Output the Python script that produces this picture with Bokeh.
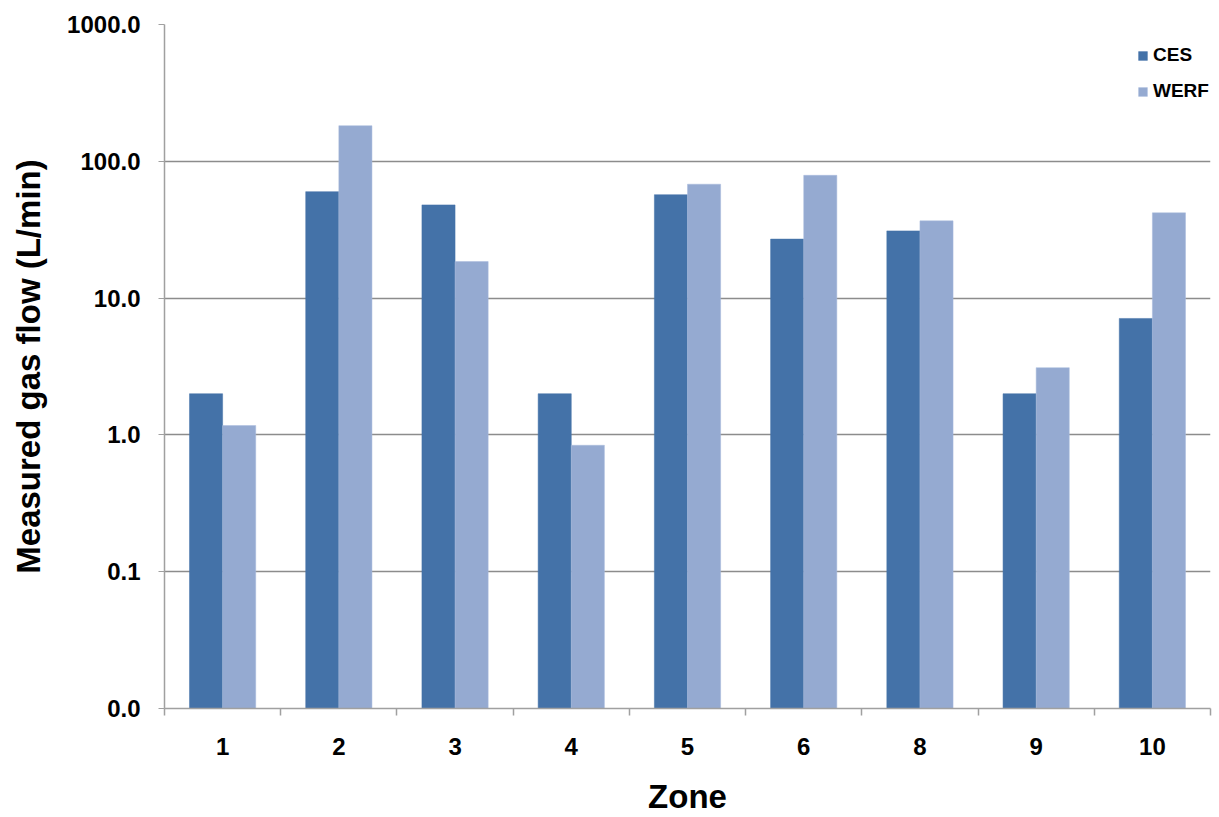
from bokeh.plotting import figure
from bokeh.models import (ColumnDataSource, Range1d, FixedTicker, NumeralTickFormatter,
                          Legend, LegendItem)
from bokeh.embed import file_html
from bokeh.resources import INLINE

# ---- data ----
zones = ["1", "2", "3", "4", "5", "6", "8", "9", "10"]
ces = [2.0, 60.0, 48.0, 2.0, 57.0, 27.0, 31.0, 2.0, 7.1]
werf = [1.17, 182.0, 18.5, 0.84, 68.0, 79.0, 36.7, 3.1, 42.0]
y_ticks = [0.01, 0.1, 1.0, 10.0, 100.0, 1000.0]
series_names = ["CES", "WERF"]

FONT = "Liberation Sans"
DARK = "#4472A8"
LIGHT = "#95AAD1"
GRID = "#8C8C8C"
AXIS = "#A0A0A0"

n = len(zones)
centers = [i + 0.5 for i in range(n)]
bw = 0.285
src = ColumnDataSource(dict(
    xc=[c - bw / 2 for c in centers],
    xw=[c + bw / 2 for c in centers],
    ces=ces, werf=werf, base=[y_ticks[0]] * n,
))

p = figure(width=1213, height=817, output_backend="svg", toolbar_location=None,
           y_axis_type="log", x_range=Range1d(0, n),
           y_range=Range1d(y_ticks[0], y_ticks[-1]),
           min_border_left=164, min_border_right=3, min_border_top=24,
           min_border_bottom=106)
p.outline_line_color = None
p.background_fill_color = "white"

r1 = p.vbar(x="xc", top="ces", bottom="base", width=bw, source=src,
            fill_color=DARK, line_color=DARK, line_width=0.5)
r2 = p.vbar(x="xw", top="werf", bottom="base", width=bw, source=src,
            fill_color=LIGHT, line_color="#A9BBDD", line_width=0.5)

# y axis
p.yaxis.ticker = FixedTicker(ticks=y_ticks, minor_ticks=[])
p.yaxis.formatter = NumeralTickFormatter(format="0.0")
p.yaxis.axis_label = "Measured gas flow (L/min)"
p.yaxis.axis_label_text_font = FONT
p.yaxis.axis_label_text_font_style = "bold"
p.yaxis.axis_label_text_font_size = "33px"
p.yaxis.axis_label_text_color = "black"
p.yaxis.axis_label_standoff = 17
p.yaxis.major_label_text_font = FONT
p.yaxis.major_label_text_font_style = "bold"
p.yaxis.major_label_text_font_size = "24px"
p.yaxis.major_label_text_color = "black"
p.yaxis.major_label_standoff = 18
p.yaxis.major_tick_out = 6
p.yaxis.major_tick_in = 0
p.yaxis.axis_line_color = AXIS
p.yaxis.major_tick_line_color = AXIS
p.yaxis.axis_line_width = 1.5

# x axis: labels at centers, ticks at boundaries
p.xaxis.ticker = FixedTicker(ticks=centers, minor_ticks=list(range(n + 1)))
p.xaxis.major_label_overrides = {c: z for c, z in zip(centers, zones)}
p.xaxis.axis_label = "Zone"
p.xaxis.axis_label_text_font = FONT
p.xaxis.axis_label_text_font_style = "bold"
p.xaxis.axis_label_text_font_size = "33px"
p.xaxis.axis_label_text_color = "black"
p.xaxis.axis_label_standoff = 20
p.xaxis.major_label_text_font = FONT
p.xaxis.major_label_text_font_style = "bold"
p.xaxis.major_label_text_font_size = "24px"
p.xaxis.major_label_text_color = "black"
p.xaxis.major_label_standoff = 22
p.xaxis.major_tick_out = 0
p.xaxis.major_tick_in = 0
p.xaxis.minor_tick_out = 7
p.xaxis.minor_tick_in = 0
p.xaxis.minor_tick_line_color = AXIS
p.xaxis.minor_tick_line_width = 1.5
p.xaxis.axis_line_color = AXIS
p.xaxis.axis_line_width = 1.5

p.xgrid.visible = False
p.ygrid.ticker = FixedTicker(ticks=y_ticks, minor_ticks=[])
p.ygrid.grid_line_color = GRID
p.ygrid.grid_line_width = 1.5

legend = Legend(items=[LegendItem(label=series_names[0], renderers=[r1]),
                       LegendItem(label=series_names[1], renderers=[r2])],
                location=(973, 606))
legend.border_line_color = None
legend.background_fill_alpha = 0
legend.label_text_font = FONT
legend.label_text_font_style = "bold"
legend.label_text_font_size = "19px"
legend.label_text_color = "black"
legend.glyph_width = 11
legend.glyph_height = 11
legend.label_height = 22
legend.label_standoff = 5
legend.spacing = 14
legend.padding = 6
p.add_layout(legend)

open("out.html", "w").write(file_html(p, INLINE))
